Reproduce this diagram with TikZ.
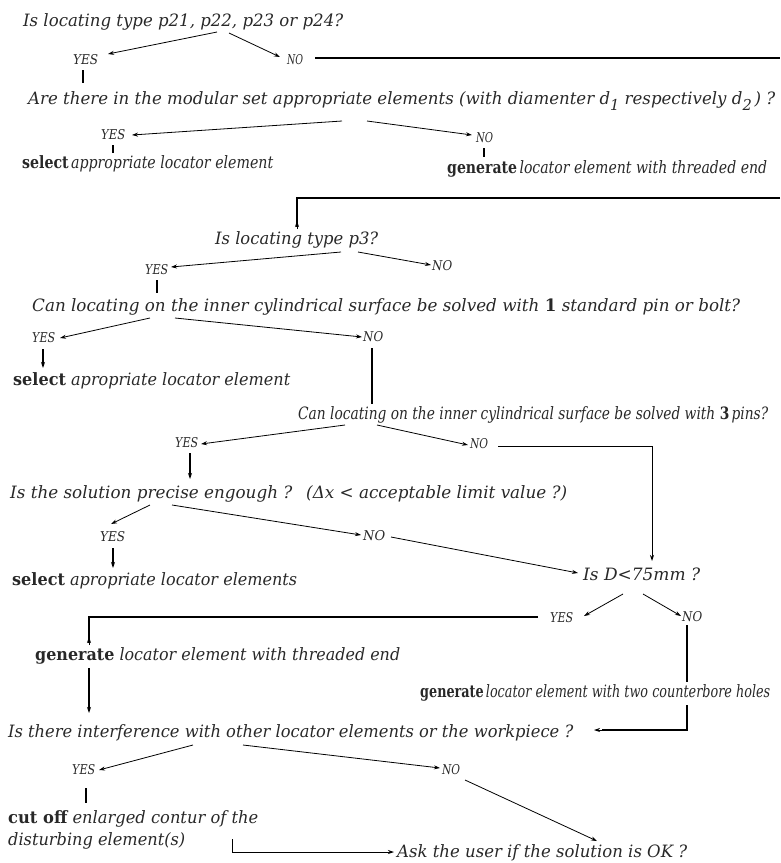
\documentclass[tikz,border=0pt]{standalone}
\usepackage{fontspec}
\setmainfont{DejaVu Serif}
\usetikzlibrary{arrows.meta}
\definecolor{txtc}{RGB}{40,40,40}
\newcommand\fitw[2]{\resizebox{#1pt}{\height}{#2}}
\newcommand\qf{\fontsize{17}{19}\selectfont\itshape}
\newcommand\lf{\fontsize{13.5}{14}\selectfont\itshape}
\newcommand\bw[1]{\textbf{\textup{#1}}}
\newcommand\subd[1]{\raisebox{-6pt}{\fontsize{15}{15}\selectfont #1}}
\begin{document}
\begin{tikzpicture}[x=1pt,y=-1pt,
  txt/.style={anchor=base west,inner sep=0pt,text=txtc},
  arr/.style={line width=0.8pt,-{Stealth[length=6pt,width=4pt]}},
  varr/.style={line width=1.1pt,-{Stealth[length=6pt,width=4pt]}},
  thinln/.style={line width=0.8pt},
  thickln/.style={line width=2.4pt},
  midln/.style={line width=1.8pt},
  tickln/.style={line width=2.4pt}]
\useasboundingbox (0,0) rectangle (780,863);
% ---- texts ----
\node[txt] (q1) at (23,26) {\fitw{320}{\qf Is locating type p21, p22, p23 or p24?}};
\node[txt] (y1) at (73,64) {\fitw{25}{\lf YES}};
\node[txt] (n1) at (287,64) {\fitw{16}{\lf NO}};
\node[txt] (q2) at (28,104) {\fitw{747}{\qf Are there in the modular set appropriate elements (with diamenter d\subd{1} respectively d\subd{2}\,) ?}};
\node[txt] (y2) at (101,139) {\fitw{24}{\lf YES}};
\node[txt] (n2) at (476,142) {\fitw{17}{\lf NO}};
\node[txt] (s1) at (22,168) {\fitw{251}{\qf \bw{select}\,appropriate locator element}};
\node[txt] (g1) at (447,173) {\fitw{320}{\qf \bw{generate}\,locator element with threaded end}};
\node[txt] (q3) at (215,244) {\fitw{163}{\qf Is locating type p3?}};
\node[txt] (y3) at (145,274) {\fitw{23}{\lf YES}};
\node[txt] (n3) at (432,270) {\fitw{20}{\lf NO}};
\node[txt] (q4) at (32,311) {\fitw{708}{\qf Can locating on the inner cylindrical surface be solved with \bw{1} standard pin or bolt?}};
\node[txt] (y4) at (32,342) {\fitw{23}{\lf YES}};
\node[txt] (n4) at (363,341) {\fitw{20}{\lf NO}};
\node[txt] (s2) at (13,385) {\fitw{277}{\qf \bw{select} apropriate locator element}};
\node[txt] (q5) at (298,419) {\fitw{470}{\qf Can locating on the inner cylindrical surface be solved with \bw{3}\,pins?}};
\node[txt] (y5) at (175,447) {\fitw{23}{\lf YES}};
\node[txt] (n5) at (470,448) {\fitw{18}{\lf NO}};
\node[txt] (q6) at (10,498) {\fitw{557}{\qf Is the solution precise engough ?\hspace{14pt}(Δx < acceptable limit value ?)}};
\node[txt] (y6) at (100,541) {\fitw{25}{\lf YES}};
\node[txt] (n6) at (363,540) {\fitw{22}{\lf NO}};
\node[txt] (s3) at (12,585) {\fitw{285}{\qf \bw{select} apropriate locator elements}};
\node[txt] (d) at (583,580) {\fitw{117}{\qf Is D<75mm ?}};
\node[txt] (y7) at (550,622) {\fitw{23}{\lf YES}};
\node[txt] (n7) at (682,621) {\fitw{20}{\lf NO}};
\node[txt] (g2) at (35,660) {\fitw{365}{\qf \bw{generate} locator element with threaded end}};
\node[txt] (g3) at (420,697) {\fitw{350}{\qf \bw{generate}\,locator element with two counterbore holes}};
\node[txt] (q8) at (8,737) {\fitw{565}{\qf Is there interference with other locator elements or the workpiece ?}};
\node[txt] (y8) at (72,774) {\fitw{23}{\lf YES}};
\node[txt] (n8) at (442,774) {\fitw{18}{\lf NO}};
\node[txt] (c1) at (8,823) {\fitw{250}{\qf \bw{cut off} enlarged contur of the}};
\node[txt] (c2) at (8,845) {\fitw{177}{\qf disturbing element(s)}};
\node[txt] (ask) at (397,857) {\fitw{290}{\qf Ask the user if the solution is OK ?}};
% ---- coordinates ----
\coordinate (q1a) at (217,32); \coordinate (y1t) at (108,54);
\coordinate (q1b) at (229,33); \coordinate (n1t) at (280,57);
\coordinate (n1r) at (315,58); \coordinate (e1) at (780,58);
\coordinate (t1a) at (83,70); \coordinate (t1b) at (83,83);
\coordinate (q2a) at (342,121); \coordinate (y2t) at (132,135);
\coordinate (q2b) at (367,121); \coordinate (n2t) at (472,135);
\coordinate (t2a) at (113,145); \coordinate (t2b) at (113,153);
\coordinate (t3a) at (484,148); \coordinate (t3b) at (484,157);
\coordinate (e2) at (780,198); \coordinate (k2) at (297,198); \coordinate (q3t) at (297,221);
\coordinate (q3a) at (341,252); \coordinate (y3t) at (171,267);
\coordinate (q3b) at (358,252); \coordinate (n3t) at (431,265);
\coordinate (t4a) at (157,280); \coordinate (t4b) at (157,293);
\coordinate (q4a) at (150,318); \coordinate (y4t) at (60,338);
\coordinate (q4b) at (175,318); \coordinate (n4t) at (362,337);
\coordinate (y4b) at (43,349); \coordinate (s2t) at (43,368);
\coordinate (n4b) at (372,348); \coordinate (q5t) at (372,404);
\coordinate (q5a) at (345,425); \coordinate (y5t) at (201,444);
\coordinate (q5b) at (377,425); \coordinate (n5t) at (468,445);
\coordinate (n5r) at (498,446); \coordinate (k5) at (652,446); \coordinate (dt) at (652,561);
\coordinate (y5b) at (190,453); \coordinate (q6t) at (190,479);
\coordinate (q6a) at (150,505); \coordinate (y6t) at (111,524);
\coordinate (q6b) at (172,505); \coordinate (n6t) at (361,535);
\coordinate (n6r) at (391,537); \coordinate (dl) at (578,573);
\coordinate (y6b) at (113,548); \coordinate (s3t) at (113,568);
\coordinate (da) at (623,594); \coordinate (y7t) at (584,616);
\coordinate (db) at (643,594); \coordinate (n7t) at (681,616);
\coordinate (y7l) at (538,617); \coordinate (k7) at (89,617); \coordinate (g2t) at (89,637);
\coordinate (g2b) at (89,668); \coordinate (q8t) at (89,713);
\coordinate (n7b) at (687,625); \coordinate (g3t) at (687,682);
\coordinate (g3b) at (687,705); \coordinate (k8) at (687,730); \coordinate (q8r) at (594,730);
\coordinate (q8a) at (193,745); \coordinate (y8t) at (99,770);
\coordinate (q8b) at (243,745); \coordinate (n8t) at (440,768);
\coordinate (t8a) at (86,788); \coordinate (t8b) at (86,803);
\coordinate (n8b) at (465,780); \coordinate (askt) at (597,841);
\coordinate (c2r) at (232,839); \coordinate (k9) at (232,852); \coordinate (askl) at (394,852);
% ---- connectors ----
\draw[arr] (q1a) -- (y1t);
\draw[arr] (q1b) -- (n1t);
\draw[thickln] (n1r) -- (e1);
\draw[tickln] (t1a) -- (t1b);
\draw[arr] (q2a) -- (y2t);
\draw[arr] (q2b) -- (n2t);
\draw[tickln] (t2a) -- (t2b);
\draw[tickln] (t3a) -- (t3b);
\draw[thickln] (e2) -- (k2) -- ([yshift=-6pt]q3t);
\draw[arr] ([yshift=-8pt]q3t) -- (q3t);
\draw[arr] (q3a) -- (y3t);
\draw[arr] (q3b) -- (n3t);
\draw[tickln] (t4a) -- (t4b);
\draw[arr] (q4a) -- (y4t);
\draw[arr] (q4b) -- (n4t);
\draw[varr] (y4b) -- (s2t);
\draw[midln] (n4b) -- (q5t);
\draw[arr] (q5a) -- (y5t);
\draw[arr] (q5b) -- (n5t);
\draw[thinln,-{Stealth[length=6pt,width=4pt]}] (n5r) -- (k5) -- (dt);
\draw[varr] (y5b) -- (q6t);
\draw[arr] (q6a) -- (y6t);
\draw[arr] (q6b) -- (n6t);
\draw[arr] (n6r) -- (dl);
\draw[varr] (y6b) -- (s3t);
\draw[arr] (da) -- (y7t);
\draw[arr] (db) -- (n7t);
\draw[thickln] (y7l) -- (k7) -- ([yshift=-6pt]g2t);
\draw[arr] ([yshift=-8pt]g2t) -- (g2t);
\draw[varr] (g2b) -- (q8t);
\draw[midln] (n7b) -- (g3t);
\draw[midln] (g3b) -- (k8) -- ([xshift=8pt]q8r);
\draw[arr] ([xshift=10pt]q8r) -- (q8r);
\draw[arr] (q8a) -- (y8t);
\draw[arr] (q8b) -- (n8t);
\draw[tickln] (t8a) -- (t8b);
\draw[arr] (n8b) -- (askt);
\draw[thinln,-{Stealth[length=6pt,width=4pt]}] (c2r) -- (k9) -- (askl);
\end{tikzpicture}
\end{document}
